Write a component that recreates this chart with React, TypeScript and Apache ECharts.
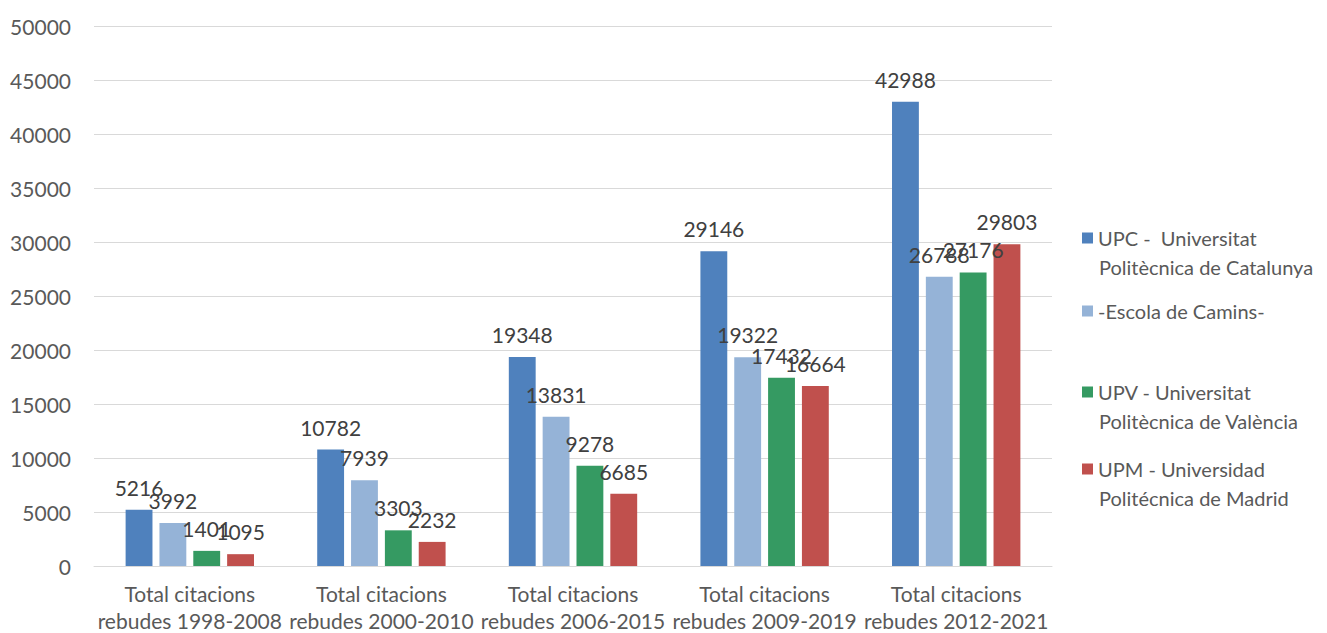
import React, { useEffect, useRef } from "react";
import * as echarts from "echarts";

const categories = [
  "Total citacions\nrebudes 1998-2008",
  "Total citacions\nrebudes 2000-2010",
  "Total citacions\nrebudes 2006-2015",
  "Total citacions\nrebudes 2009-2019",
  "Total citacions\nrebudes 2012-2021",
];
const seriesNames = [
  "UPC -  Universitat Politècnica de Catalunya",
  "-Escola de Camins-",
  "UPV - Universitat Politècnica de València",
  "UPM - Universidad Politécnica de Madrid",
];
const legendLine1 = ["UPC -  Universitat", "-Escola de Camins-", "UPV - Universitat", "UPM - Universidad"];
const legendLine2 = ["Politècnica de Catalunya", "", "Politècnica de València", "Politécnica de Madrid"];
const upc = [5216, 10782, 19348, 29146, 42988];
const camins = [3992, 7939, 13831, 19322, 26788];
const upv = [1401, 3303, 9278, 17432, 27176];
const upm = [1095, 2232, 6685, 16664, 29803];
const colors = ["#4f81bd", "#95b3d7", "#359a62", "#c0504d"];
const yTicks = { min: 0, max: 50000, interval: 5000 };

const FONT = "Lato, 'Open Sans', sans-serif";

export default function App() {
  const ref = useRef<HTMLDivElement>(null);
  useEffect(() => {
    const chart = echarts.init(ref.current!, null, { renderer: "svg" });
    const values = [upc, camins, upv, upm];
    const legendTops = [240, 313, 394, 471];
    chart.setOption({
      animation: false,
      grid: {
        left: 94,
        right: 275,
        top: 26,
        bottom: 67,
        containLabel: false,
        outerBoundsMode: "none",
      },
      xAxis: {
        type: "category",
        data: categories,
        axisLine: { lineStyle: { color: "#d9d9d9", width: 1 } },
        axisTick: { show: false },
        axisLabel: {
          color: "#595959",
          fontSize: 21,
          fontFamily: FONT,
          lineHeight: 27,
          margin: 14,
          interval: 0,
        },
      },
      yAxis: {
        type: "value",
        min: yTicks.min,
        max: yTicks.max,
        interval: yTicks.interval,
        axisLine: { show: false },
        axisTick: { show: false },
        splitLine: { lineStyle: { color: "#d9d9d9", width: 1 } },
        axisLabel: {
          color: "#595959",
          fontSize: 21,
          fontFamily: FONT,
          margin: 23,
          formatter: (v: number) => String(v),
        },
      },
      legend: seriesNames.map((n, i) => ({
        data: [n],
        left: 1082,
        top: legendTops[i] - 12,
        padding: 0,
        orient: "vertical",
        itemWidth: 11,
        itemHeight: 11,
        itemGap: 0,
        icon: "rect",
        formatter: () => legendLine1[i],
        textStyle: { color: "#595959", fontSize: 20, fontFamily: FONT },
        selectedMode: false,
      })),
      graphic: legendLine2
        .map((t, i) => ({ t, i }))
        .filter((o) => o.t)
        .map((o) => ({
          type: "text",
          left: 1099,
          top: legendTops[o.i] + 17,
          style: { text: o.t, fill: "#595959", fontSize: 20, fontFamily: FONT },
        })),
      series: seriesNames.map((n, i) => ({
        name: n,
        type: "bar",
        data: values[i],
        itemStyle: { color: colors[i] },
        barGap: "26%",
        barCategoryGap: "33%",
        label: {
          show: true,
          position: "top",
          distance: 12,
          color: "#404040",
          fontSize: 21,
          fontFamily: FONT,
        },
      })),
    });
    return () => chart.dispose();
  }, []);
  return (
    <div
      ref={ref}
      style={{ position: "absolute", left: 0, top: 0, width: 1327, height: 633 }}
    />
  );
}
